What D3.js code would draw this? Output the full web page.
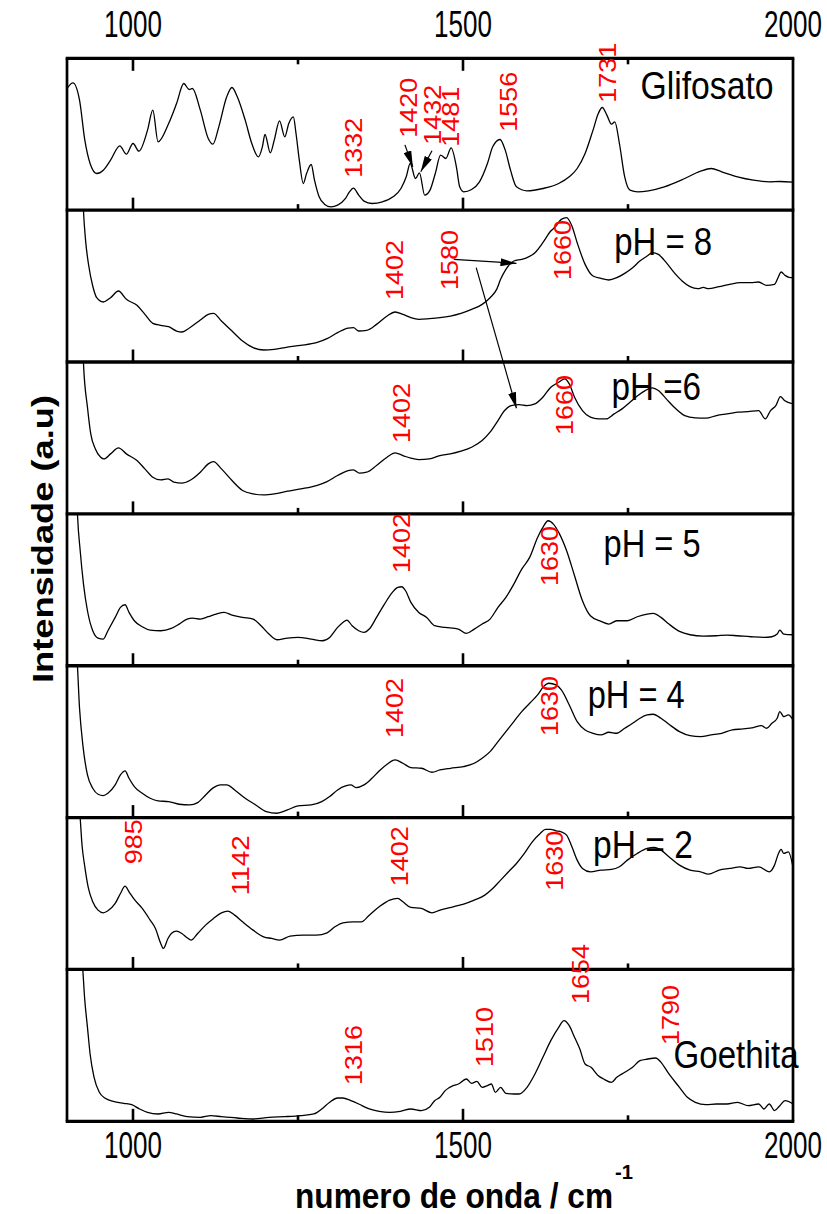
<!DOCTYPE html>
<html>
<head>
<meta charset="utf-8">
<script src="https://cdn.jsdelivr.net/npm/d3@7"></script>
<style>
  body { margin: 0; background: #fff; }
  svg { display: block; }
</style>
</head>
<body>
<svg id="chart" width="827" height="1214"></svg>
<script>
// ---- data: wavenumber (cm-1), intensity (a.u.) ----
const tickValues = [1000, 1250, 1500, 1750];
const tickLabels = [1000, 1500, 2000];
const panelNames = ["Glifosato", "pH = 8", "pH =6", "pH = 5", "pH = 4", "pH = 2", "Goethita"];

const glifosato = [[900,365],[909,382],[919,330],[927,210],[935,140],[945,110],[955,120],[966,150],[980,193],[990,168],[1000,200],[1009,177],[1022,240],[1030,300],[1038,205],[1054,260],[1066,320],[1077,380],[1085,362],[1090,365],[1102,300],[1114,215],[1121,198],[1130,250],[1142,340],[1150,368],[1158,340],[1170,270],[1180,200],[1190,160],[1196,190],[1200,227],[1208,172],[1214,210],[1222,268],[1230,220],[1236,260],[1243,280],[1247,230],[1252,150],[1258,80],[1263,110],[1270,137],[1275,90],[1282,40],[1290,18],[1300,10],[1310,15],[1322,35],[1328,55],[1334,66],[1342,45],[1350,27],[1362,20],[1378,25],[1394,40],[1406,65],[1414,100],[1420,140],[1428,95],[1434,112],[1442,45],[1450,60],[1458,110],[1466,165],[1474,155],[1482,187],[1490,130],[1495,70],[1501,55],[1513,62],[1525,85],[1537,140],[1545,190],[1556,212],[1564,180],[1572,120],[1581,70],[1597,58],[1621,65],[1645,80],[1661,100],[1673,125],[1685,170],[1697,240],[1705,290],[1711,308],[1718,285],[1725,258],[1730,265],[1737,200],[1745,100],[1753,60],[1765,55],[1781,58],[1805,70],[1836,95],[1860,117],[1876,125],[1892,115],[1916,100],[1940,90],[1964,85],[1980,86],[2000,84]];

const ph8 = [[924,500],[925,453],[928,368],[933,288],[939,228],[945,193],[955,180],[966,193],[978,213],[990,188],[1006,170],[1018,143],[1030,116],[1042,110],[1054,106],[1066,93],[1074,90],[1086,103],[1102,126],[1114,143],[1122,146],[1134,123],[1150,93],[1166,63],[1182,43],[1198,36],[1214,38],[1234,45],[1254,50],[1278,58],[1294,70],[1310,88],[1326,102],[1334,103],[1342,93],[1354,95],[1369,113],[1385,138],[1397,150],[1409,143],[1421,133],[1433,128],[1449,130],[1465,133],[1481,138],[1497,146],[1513,158],[1529,173],[1541,193],[1551,218],[1557,248],[1565,278],[1577,303],[1589,308],[1597,313],[1609,328],[1621,358],[1633,393],[1641,408],[1649,428],[1657,433],[1665,408],[1673,358],[1685,293],[1697,258],[1709,251],[1721,246],[1733,253],[1745,266],[1757,283],[1768,303],[1779,318],[1787,328],[1796,323],[1808,298],[1820,268],[1832,243],[1844,226],[1856,220],[1864,224],[1872,220],[1888,226],[1904,233],[1920,238],[1936,238],[1948,240],[1960,230],[1972,233],[1978,256],[1982,270],[1988,260],[1994,254],[2000,253]];

const ph6 = [[924,500],[925,450],[931,320],[936,240],[943,195],[951,170],[956,165],[966,180],[978,198],[990,180],[1006,160],[1018,135],[1030,110],[1042,102],[1053,105],[1062,95],[1074,92],[1086,100],[1102,125],[1114,150],[1122,157],[1134,135],[1150,100],[1166,70],[1182,60],[1198,57],[1214,60],[1234,68],[1254,75],[1278,85],[1294,97],[1310,115],[1326,130],[1334,132],[1343,122],[1354,125],[1369,145],[1385,170],[1397,183],[1409,175],[1421,167],[1433,163],[1449,165],[1465,175],[1481,180],[1497,188],[1513,200],[1529,220],[1541,245],[1553,280],[1563,310],[1573,325],[1585,328],[1597,325],[1609,330],[1621,350],[1633,380],[1645,395],[1654,405],[1661,390],[1669,350],[1681,310],[1693,290],[1705,285],[1717,285],[1729,300],[1741,315],[1753,335],[1765,355],[1776,370],[1787,378],[1796,370],[1808,345],[1820,320],[1836,295],[1852,288],[1868,287],[1884,295],[1900,300],[1916,305],[1932,307],[1948,310],[1958,285],[1966,310],[1974,325],[1981,352],[1987,340],[2000,330]];

const ph5 = [[915,500],[916,450],[920,345],[925,245],[931,165],[939,105],[947,83],[955,80],[962,105],[973,145],[981,175],[988,183],[994,160],[1002,135],[1014,117],[1026,107],[1042,105],[1058,112],[1070,125],[1082,140],[1090,143],[1102,140],[1114,147],[1126,155],[1138,160],[1150,152],[1166,145],[1182,140],[1194,120],[1206,95],[1218,78],[1234,83],[1250,85],[1270,80],[1287,75],[1298,85],[1310,115],[1318,130],[1324,137],[1332,120],[1342,105],[1350,100],[1358,110],[1369,145],[1381,185],[1393,220],[1401,235],[1407,237],[1413,225],[1421,190],[1433,160],[1445,145],[1457,120],[1473,115],[1493,110],[1505,97],[1517,110],[1529,125],[1541,140],[1553,175],[1565,205],[1577,245],[1589,290],[1601,325],[1613,385],[1621,415],[1629,435],[1637,425],[1645,400],[1657,345],[1669,270],[1681,195],[1693,150],[1709,133],[1721,125],[1733,135],[1749,135],[1764,147],[1779,155],[1788,157],[1800,145],[1812,125],[1828,103],[1844,93],[1864,89],[1884,90],[1900,92],[1916,90],[1936,87],[1956,85],[1968,87],[1976,95],[1980,107],[1986,95],[2000,93]];

const ph4 = [[914,500],[915,480],[919,328],[924,218],[931,128],[939,88],[947,70],[955,66],[962,73],[973,98],[981,128],[988,140],[994,118],[1002,93],[1014,73],[1026,58],[1038,50],[1054,48],[1070,40],[1086,38],[1098,45],[1110,68],[1122,90],[1132,98],[1142,98],[1154,83],[1170,58],[1186,38],[1202,18],[1218,13],[1234,23],[1250,35],[1270,38],[1286,48],[1298,63],[1310,83],[1322,95],[1330,98],[1338,90],[1350,98],[1362,118],[1373,140],[1385,160],[1397,173],[1409,163],[1421,150],[1437,148],[1453,136],[1465,143],[1481,148],[1501,153],[1517,163],[1529,178],[1541,198],[1553,228],[1565,258],[1577,288],[1589,318],[1601,343],[1613,368],[1622,393],[1630,403],[1641,398],[1649,383],[1661,338],[1673,288],[1685,263],[1697,253],[1709,248],[1721,256],[1733,253],[1745,268],[1757,283],[1768,298],[1779,308],[1788,310],[1800,298],[1812,280],[1828,258],[1844,246],[1860,243],[1876,248],[1892,253],[1908,263],[1924,266],[1940,270],[1952,276],[1960,268],[1968,283],[1976,298],[1980,318],[1986,303],[1993,308],[2000,293]];

const ph2 = [[918,500],[919,480],[923,368],[927,308],[932,248],[939,203],[947,178],[955,170],[962,176],[973,198],[981,228],[988,250],[994,233],[1002,210],[1014,183],[1026,148],[1034,123],[1042,78],[1046,63],[1053,93],[1058,108],[1066,115],[1074,108],[1082,95],[1088,88],[1098,108],[1110,133],[1122,153],[1134,170],[1144,175],[1154,163],[1166,143],[1182,118],[1198,98],[1210,93],[1222,88],[1238,100],[1258,103],[1278,103],[1294,110],[1306,128],[1318,140],[1334,143],[1346,143],[1358,163],[1373,188],[1389,208],[1401,213],[1409,203],[1421,186],[1437,183],[1453,170],[1465,178],[1485,188],[1501,196],[1517,208],[1533,223],[1545,243],[1557,268],[1569,293],[1581,318],[1593,348],[1605,383],[1617,408],[1625,420],[1633,420],[1641,416],[1649,413],[1657,403],[1665,368],[1673,328],[1681,303],[1693,293],[1709,298],[1725,300],[1737,308],[1749,328],[1764,348],[1779,363],[1790,366],[1800,358],[1812,338],[1828,313],[1844,298],[1860,293],[1872,286],[1888,298],[1904,303],[1920,308],[1932,303],[1948,308],[1964,293],[1972,313],[1978,348],[1982,360],[1986,348],[1993,353],[2000,308]];

const goethita = [[922,500],[923,480],[927,362],[931,282],[935,202],[941,132],[949,87],[958,69],[970,60],[986,54],[998,50],[1010,37],[1022,27],[1038,22],[1054,27],[1066,22],[1082,14],[1102,12],[1118,17],[1134,14],[1158,10],[1182,7],[1206,12],[1230,14],[1254,17],[1274,22],[1286,37],[1298,57],[1310,70],[1318,70],[1330,62],[1342,52],[1358,37],[1373,30],[1389,27],[1405,30],[1421,37],[1437,32],[1449,42],[1457,62],[1465,72],[1473,92],[1485,107],[1493,112],[1505,127],[1513,114],[1521,120],[1529,102],[1537,107],[1543,112],[1549,87],[1557,102],[1565,84],[1577,82],[1585,82],[1597,102],[1609,142],[1621,192],[1633,242],[1645,282],[1653,302],[1661,287],[1669,252],[1677,217],[1685,172],[1694,162],[1705,137],[1713,127],[1725,117],[1733,132],[1745,147],[1757,162],[1768,182],[1780,187],[1792,190],[1800,177],[1812,142],[1828,102],[1840,72],[1852,57],[1868,50],[1884,52],[1900,52],[1916,57],[1932,47],[1948,52],[1956,37],[1964,52],[1972,32],[1980,47],[1988,62],[2000,52]];

const spectra = [glifosato, ph8, ph6, ph5, ph4, ph2, goethita];

// peak assignments: panel, label, wavenumber and intensity where the text begins
const peakLabels = [
  {panel: 0, text: "1332", wn: 1347, at: 97},
  {panel: 0, text: "1420", wn: 1430, at: 217},
  {panel: 0, text: "1432", wn: 1467, at: 196},
  {panel: 0, text: "1481", wn: 1494, at: 190},
  {panel: 0, text: "1556", wn: 1582, at: 235},
  {panel: 0, text: "1731", wn: 1732, at: 322},
  {panel: 1, text: "1402", wn: 1409, at: 186},
  {panel: 1, text: "1580", wn: 1492, at: 216},
  {panel: 1, text: "1660", wn: 1664, at: 246},
  {panel: 2, text: "1402", wn: 1420, at: 213},
  {panel: 2, text: "1660", wn: 1667, at: 237},
  {panel: 3, text: "1402", wn: 1420, at: 278},
  {panel: 3, text: "1630", wn: 1644, at: 239},
  {panel: 4, text: "1402", wn: 1409, at: 239},
  {panel: 4, text: "1630", wn: 1644, at: 245},
  {panel: 5, text: "985",  wn: 1014, at: 316},
  {panel: 5, text: "1142", wn: 1176, at: 223},
  {panel: 5, text: "1402", wn: 1417, at: 250},
  {panel: 5, text: "1630", wn: 1652, at: 236},
  {panel: 6, text: "1316", wn: 1347, at: 109},
  {panel: 6, text: "1510", wn: 1545, at: 163},
  {panel: 6, text: "1654", wn: 1691, at: 352},
  {panel: 6, text: "1790", wn: 1827, at: 229}
];

// sample names: panel, wavenumber and intensity of the text baseline start
const nameLabels = [
  {panel: 0, wn: 1769, at: 333},
  {panel: 1, wn: 1729, at: 321},
  {panel: 2, wn: 1725, at: 342},
  {panel: 3, wn: 1713, at: 326},
  {panel: 4, wn: 1689, at: 329},
  {panel: 5, wn: 1697, at: 334},
  {panel: 6, wn: 1819, at: 160}
];

// arrows: [panel, wavenumber, intensity] for tail and head
const arrows = [
  {from: [0, 1412, 196], to: [0, 1424, 130]},
  {from: [0, 1453, 178], to: [0, 1436, 115]},
  {from: [1, 1486, 308], to: [1, 1581, 296]},
  {from: [1, 1520, 283], to: [2, 1581, 317]}
];

// ---- layout ----
const svg = d3.select("#chart");
const left = 67, right = 793, top0 = 58.3, panelH = 151.86, nPanels = spectra.length;
const bottom = top0 + nPanels * panelH;
const sans = "'Liberation Sans',Arial,sans-serif";

const x = d3.scaleLinear().domain([900, 2000]).range([left, right]);
const panelTop = i => top0 + i * panelH;
const yScales = spectra.map((_, i) =>
  d3.scaleLinear().domain([0, 455.6]).range([panelTop(i) + panelH, panelTop(i)]));

const defs = svg.append("defs");
spectra.forEach((_, i) => {
  defs.append("clipPath").attr("id", "clip" + i)
    .append("rect").attr("x", left).attr("y", panelTop(i))
    .attr("width", right - left).attr("height", panelH);
});
defs.append("marker").attr("id", "head")
  .attr("viewBox", "0 0 16 8").attr("refX", 16).attr("refY", 4)
  .attr("markerWidth", 16).attr("markerHeight", 8)
  .attr("markerUnits", "userSpaceOnUse").attr("orient", "auto")
  .append("path").attr("d", "M0,0L16,4L0,8Z").attr("fill", "#000");

// spectra
const line = d3.line().curve(d3.curveMonotoneX);
spectra.forEach((s, i) => {
  const y = yScales[i];
  svg.append("path")
    .attr("clip-path", `url(#clip${i})`)
    .attr("d", line.x(d => x(d[0])).y(d => y(d[1]))(s))
    .attr("fill", "none").attr("stroke", "#000").attr("stroke-width", 1.3);
});

// ticks: inward at bottom of every panel and at the top of the first
const tickLen = v => (v % 500 === 0 ? 12.5 : 6);
spectra.forEach((_, i) => {
  const yb = panelTop(i) + panelH;
  svg.append("g").selectAll("line").data(tickValues).join("line")
    .attr("x1", d => x(d)).attr("x2", d => x(d))
    .attr("y1", yb).attr("y2", d => yb - tickLen(d))
    .attr("stroke", "#000").attr("stroke-width", 2.6);
});
svg.append("g").selectAll("line").data(tickValues).join("line")
  .attr("x1", d => x(d)).attr("x2", d => x(d))
  .attr("y1", top0).attr("y2", d => top0 + tickLen(d))
  .attr("stroke", "#000").attr("stroke-width", 2.6);

// frames
d3.range(nPanels + 1).forEach(i => {
  svg.append("line").attr("x1", left - 1.3).attr("x2", right + 1.3)
    .attr("y1", panelTop(i)).attr("y2", panelTop(i))
    .attr("stroke", "#000").attr("stroke-width", 3.3);
});
[left, right].forEach(xx => {
  svg.append("line").attr("x1", xx).attr("x2", xx)
    .attr("y1", top0).attr("y2", bottom)
    .attr("stroke", "#000").attr("stroke-width", 2.7);
});

// tick labels, top and bottom (tall condensed digits: regular face stretched vertically)
[37.3, 1158.3].forEach(yy => {
  svg.append("g").selectAll("text").data(tickLabels).join("text")
    .attr("transform", d => `translate(${x(d)},${yy}) scale(1,1.4)`)
    .attr("text-anchor", "middle")
    .attr("font-family", sans).attr("font-size", 26)
    .text(d => d);
});

// sample names
const nameWidths = [133, 98, 89.5, 97, 97, 100, 125];
nameLabels.forEach((d, k) => {
  svg.append("text")
    .attr("x", x(d.wn)).attr("y", yScales[d.panel](d.at))
    .attr("font-family", sans).attr("font-size", 39)
    .attr("textLength", nameWidths[k]).attr("lengthAdjust", "spacingAndGlyphs")
    .text(panelNames[d.panel]);
});

// peak labels
svg.append("g").selectAll("text").data(peakLabels).join("text")
  .attr("transform", d => `translate(${x(d.wn)},${yScales[d.panel](d.at)}) rotate(-90)`)
  .attr("font-family", sans).attr("font-size", 23).attr("fill", "#ff0000")
  .attr("textLength", d => d.text.length * 15).attr("lengthAdjust", "spacingAndGlyphs")
  .text(d => d.text);

// arrows
svg.append("g").selectAll("line").data(arrows).join("line")
  .attr("x1", d => x(d.from[1])).attr("y1", d => yScales[d.from[0]](d.from[2]))
  .attr("x2", d => x(d.to[1])).attr("y2", d => yScales[d.to[0]](d.to[2]))
  .attr("stroke", "#000").attr("stroke-width", 1.2)
  .attr("marker-end", "url(#head)");

// axis titles
svg.append("text")
  .attr("transform", "translate(295,1207.5) scale(1,1.12)")
  .attr("font-family", sans).attr("font-weight", "bold").attr("font-size", 31.6)
  .attr("textLength", 318).attr("lengthAdjust", "spacingAndGlyphs")
  .text("numero de onda / cm");
svg.append("text")
  .attr("x", 615).attr("y", 1179)
  .attr("font-family", sans).attr("font-weight", "bold").attr("font-size", 20)
  .attr("textLength", 18).attr("lengthAdjust", "spacingAndGlyphs")
  .text("-1");
svg.append("text")
  .attr("transform", "translate(53.3,539) rotate(-90)")
  .attr("text-anchor", "middle")
  .attr("font-family", sans).attr("font-weight", "bold").attr("font-size", 30)
  .attr("textLength", 288).attr("lengthAdjust", "spacingAndGlyphs")
  .text("Intensidade (a.u)");
</script>
</body>
</html>
